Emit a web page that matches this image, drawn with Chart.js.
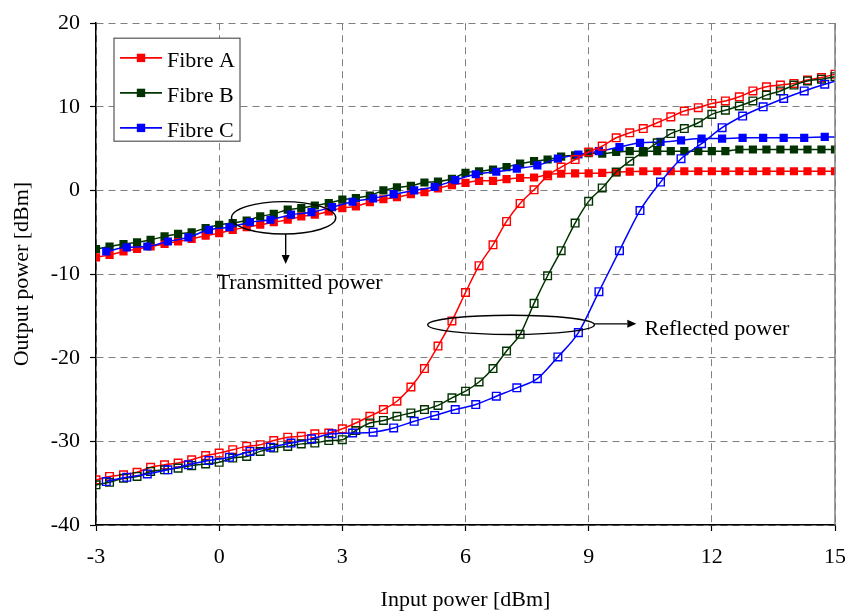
<!DOCTYPE html>
<html>
<head>
<meta charset="utf-8">
<script src="https://cdn.jsdelivr.net/npm/chart.js@4.4.1/dist/chart.umd.min.js"></script>
<style>
  html, body { margin: 0; padding: 0; background: #fff; }
</style>
</head>
<body>
<canvas id="myChart" width="845" height="613"></canvas>
<script>
// input power steps (dBm) for fibres A and B, and for fibre C
const inputAB = [-3, -2.67, -2.33, -2, -1.67, -1.33, -1, -0.67, -0.33,
    0, 0.33, 0.67, 1, 1.33, 1.67, 2, 2.33, 2.67,
    3, 3.33, 3.67, 4, 4.33, 4.67, 5, 5.33, 5.67,
    6, 6.33, 6.67, 7, 7.33, 7.67, 8, 8.33, 8.67,
    9, 9.33, 9.67, 10, 10.33, 10.67, 11, 11.33, 11.67,
    12, 12.33, 12.67, 13, 13.33, 13.67, 14, 14.33, 14.67, 15];
const inputC = [-2.75, -2.25, -1.75, -1.25, -0.75, -0.25, 0.25, 0.75, 1.25, 1.75, 2.25, 2.75,
    3.25, 3.75, 4.25, 4.75, 5.25, 5.75, 6.25, 6.75, 7.25, 7.75, 8.25, 8.75,
    9.25, 9.75, 10.25, 10.75, 11.25, 11.75, 12.25, 12.75, 13.25, 13.75, 14.25, 14.75, 15.25];

// transmitted power (dBm)
const transA = [-8.0, -7.7, -7.3, -7.0, -6.7, -6.4, -6.1, -5.8, -5.4,
    -5.1, -4.7, -4.4, -4.1, -3.8, -3.5, -3.1, -2.9, -2.5,
    -2.1, -1.9, -1.4, -1.05, -0.8, -0.45, -0.2, 0.25, 0.65,
    0.9, 1.15, 1.15, 1.35, 1.5, 1.55, 1.9, 2.0, 2.05,
    2.05, 2.1, 2.2, 2.25, 2.3, 2.3, 2.3, 2.3, 2.3,
    2.3, 2.3, 2.3, 2.3, 2.3, 2.3, 2.3, 2.3, 2.3, 2.3];
const transB = [-7.0, -6.7, -6.4, -6.2, -5.9, -5.5, -5.2, -5.0, -4.5,
    -4.1, -3.9, -3.6, -3.1, -2.8, -2.3, -2.1, -1.8, -1.5,
    -1.1, -0.9, -0.6, 0.0, 0.36, 0.56, 0.95, 1.07, 1.4,
    2.1, 2.3, 2.5, 2.8, 3.2, 3.5, 3.7, 4.05, 4.2,
    4.45, 4.4, 4.6, 4.7, 4.7, 4.7, 4.7, 4.7, 4.7,
    4.7, 4.7, 4.9, 4.9, 4.9, 4.9, 4.9, 4.9, 4.9, 4.9];
const transC = [-7.3, -6.8, -6.7, -6.1, -5.6, -4.7, -4.4, -3.8, -3.5, -2.9, -2.6, -2.0,
    -1.35, -0.95, -0.44, 0.0, 0.44, 1.23, 1.94, 2.24, 2.6, 3.0, 3.8, 4.3,
    4.7, 5.2, 5.7, 5.8, 6.0, 6.2, 6.2, 6.3, 6.3, 6.3, 6.3, 6.4, 6.4];

// reflected power (dBm)
const reflA = [-34.6, -34.2, -34.0, -33.7, -33.1, -32.8, -32.6, -32.2, -31.7,
    -31.4, -31.0, -30.6, -30.4, -29.9, -29.5, -29.4, -29.1, -29.0,
    -28.5, -27.8, -27.0, -26.2, -25.2, -23.5, -21.3, -18.6, -15.6,
    -12.2, -9.0, -6.5, -3.7, -1.55, 0.08, 1.75, 2.8, 3.7,
    4.6, 5.3, 6.3, 6.9, 7.4, 8.1, 8.8, 9.5, 9.9,
    10.4, 10.7, 11.2, 11.9, 12.4, 12.6, 12.8, 13.2, 13.5, 13.9];
const reflB = [-35.2, -34.9, -34.4, -34.2, -33.6, -33.4, -33.2, -32.9, -32.7,
    -32.5, -32.0, -31.8, -31.2, -30.8, -30.6, -30.3, -30.2, -29.9,
    -29.8, -28.7, -27.8, -27.5, -27.0, -26.6, -26.2, -25.7, -24.8,
    -24.0, -22.9, -21.3, -19.2, -17.2, -13.5, -10.2, -7.2, -3.9,
    -1.3, 0.3, 2.2, 3.5, 4.6, 5.7, 6.8, 7.4, 8.1,
    9.1, 9.6, 10.1, 10.7, 11.4, 11.9, 12.6, 13.1, 13.3, 13.6];
const reflC = [-34.8, -34.3, -33.9, -33.4, -32.8, -32.3, -31.9, -31.2, -30.7, -30.2, -29.7, -29.1,
    -29.0, -28.9, -28.4, -27.6, -26.9, -26.2, -25.6, -24.6, -23.6, -22.5, -19.9, -17.0,
    -12.1, -7.2, -2.4, 1.0, 3.8, 5.6, 7.5, 8.9, 10.0, 11.0, 11.9, 12.7, 13.4];

const fibreNames = ["Fibre A", "Fibre B", "Fibre C"];
const fibreColors = ["#ff0000", "#003300", "#0000ff"];

const FONT = "'Liberation Serif', 'Times New Roman', serif";

function pts(xs, ys) {
    return xs.map((x, i) => ({ x: x, y: ys[i] }));
}

function filled(i, xs, ys) {
    return {
        label: fibreNames[i],
        data: pts(xs, ys),
        borderColor: fibreColors[i],
        backgroundColor: fibreColors[i],
        pointBackgroundColor: fibreColors[i],
        pointBorderColor: fibreColors[i],
        pointStyle: "rect",
        pointRadius: 5.8,
        pointBorderWidth: 0,
        borderWidth: 1.5,
        cubicInterpolationMode: "monotone"
    };
}

function hollow(i, xs, ys) {
    return {
        label: fibreNames[i] + " reflected",
        data: pts(xs, ys),
        borderColor: fibreColors[i],
        backgroundColor: "rgba(0,0,0,0)",
        pointBackgroundColor: "rgba(0,0,0,0)",
        pointBorderColor: fibreColors[i],
        pointStyle: "rect",
        pointRadius: 5.4,
        pointBorderWidth: 1.4,
        borderWidth: 1.5,
        cubicInterpolationMode: "monotone"
    };
}

function arrow(ctx, x1, y1, x2, y2) {
    const ang = Math.atan2(y2 - y1, x2 - x1);
    const len = 9, half = 4;
    ctx.beginPath();
    ctx.moveTo(x1, y1);
    ctx.lineTo(x2 - len * Math.cos(ang), y2 - len * Math.sin(ang));
    ctx.stroke();
    ctx.beginPath();
    ctx.moveTo(x2, y2);
    ctx.lineTo(x2 - len * Math.cos(ang) - half * Math.sin(ang), y2 - len * Math.sin(ang) + half * Math.cos(ang));
    ctx.lineTo(x2 - len * Math.cos(ang) + half * Math.sin(ang), y2 - len * Math.sin(ang) - half * Math.cos(ang));
    ctx.closePath();
    ctx.fill();
}

const extras = {
    id: "extras",
    afterDraw(chart) {
        const { ctx, chartArea: a, scales: { x, y } } = chart;
        ctx.save();

        // right frame
        ctx.strokeStyle = "#808080";
        ctx.lineWidth = 1.5;
        ctx.beginPath();
        ctx.moveTo(a.right, a.top);
        ctx.lineTo(a.right, a.bottom);
        ctx.stroke();

        ctx.strokeStyle = "#000";
        ctx.fillStyle = "#000";
        ctx.lineWidth = 1.4;

        // transmitted power note
        let cx = x.getPixelForValue(1.57), cy = y.getPixelForValue(-3.27);
        let rx = x.getPixelForValue(1.57 + 1.27) - cx, ry = y.getPixelForValue(-3.27 - 1.93) - cy;
        ctx.beginPath();
        ctx.ellipse(cx, cy, rx, ry, 0, 0, Math.PI * 2);
        ctx.stroke();
        arrow(ctx, x.getPixelForValue(1.62), cy + ry, x.getPixelForValue(1.62), y.getPixelForValue(-8.8));

        // reflected power note
        cx = x.getPixelForValue(7.11); cy = y.getPixelForValue(-16.07);
        rx = x.getPixelForValue(7.11 + 2.03) - cx; ry = y.getPixelForValue(-16.07 - 1.15) - cy;
        ctx.beginPath();
        ctx.ellipse(cx, cy, rx, ry, 0, 0, Math.PI * 2);
        ctx.stroke();
        arrow(ctx, cx + rx, y.getPixelForValue(-15.95), x.getPixelForValue(10.16), y.getPixelForValue(-15.95));

        ctx.font = "22px " + FONT;
        ctx.textBaseline = "alphabetic";
        ctx.textAlign = "center";
        ctx.fillText("Transmitted power", x.getPixelForValue(1.96), y.getPixelForValue(-11.82));
        ctx.textAlign = "left";
        ctx.fillText("Reflected power", x.getPixelForValue(10.36), y.getPixelForValue(-17.3));

        // legend
        const lx = a.left + 18, ly = a.top + 15, lw = 126, lh = 103;
        ctx.fillStyle = "#fff";
        ctx.fillRect(lx, ly, lw, lh);
        ctx.strokeStyle = "#555";
        ctx.lineWidth = 1.2;
        ctx.strokeRect(lx, ly, lw, lh);
        fibreNames.forEach((name, i) => {
            const rowY = ly + 19.7 + i * 35;
            ctx.strokeStyle = fibreColors[i];
            ctx.fillStyle = fibreColors[i];
            ctx.lineWidth = 1.8;
            ctx.beginPath();
            ctx.moveTo(lx + 6, rowY);
            ctx.lineTo(lx + 48, rowY);
            ctx.stroke();
            ctx.fillRect(lx + 27 - 4.2, rowY - 4.2, 8.4, 8.4);
            ctx.fillStyle = "#000";
            ctx.fillText(name, lx + 53, rowY + 9.5);
        });
        ctx.restore();
    }
};

const ctx = document.getElementById("myChart").getContext("2d");
const chart = new Chart(ctx, {
    type: "line",
    data: {
        datasets: [
            hollow(2, inputC, reflC),
            hollow(1, inputAB, reflB),
            hollow(0, inputAB, reflA),
            filled(2, inputC, transC),
            filled(1, inputAB, transB),
            filled(0, inputAB, transA)
        ]
    },
    options: {
        responsive: false,
        animation: false,
        devicePixelRatio: 1,
        layout: { padding: { top: 21, right: 10, left: 0, bottom: 0 } },
        plugins: {
            legend: { display: false },
            tooltip: { enabled: false }
        },
        scales: {
            x: {
                type: "linear",
                min: -3,
                max: 15,
                afterFit: s => { s.height = 88; s.paddingLeft = 0; s.paddingRight = 0; },
                ticks: { stepSize: 3, color: "#000", padding: 13, font: { family: FONT, size: 22 } },
                grid: { color: "#808080", lineWidth: 1, tickLength: 6, tickColor: "#000", tickWidth: 1.2, tickBorderDash: [] },
                border: { display: true, color: "#000", width: 1.5, dash: [7, 5] },
                title: { display: true, text: "Input power [dBm]", color: "#000", padding: { top: 0, bottom: 0 }, font: { family: FONT, size: 22 } }
            },
            y: {
                min: -40,
                max: 20,
                afterFit: s => { s.width = 96; },
                ticks: { stepSize: 10, color: "#000", padding: 10, font: { family: FONT, size: 22 } },
                grid: { color: "#808080", lineWidth: 1, tickLength: 6, tickColor: "#000", tickWidth: 1.2, tickBorderDash: [] },
                border: { display: true, color: "#000", width: 1.5, dash: [7, 5] },
                title: { display: true, text: "Output power [dBm]", color: "#000", padding: { top: 9, bottom: 9 }, font: { family: FONT, size: 22 } }
            }
        }
    },
    plugins: [extras]
});
</script>
</body>
</html>
